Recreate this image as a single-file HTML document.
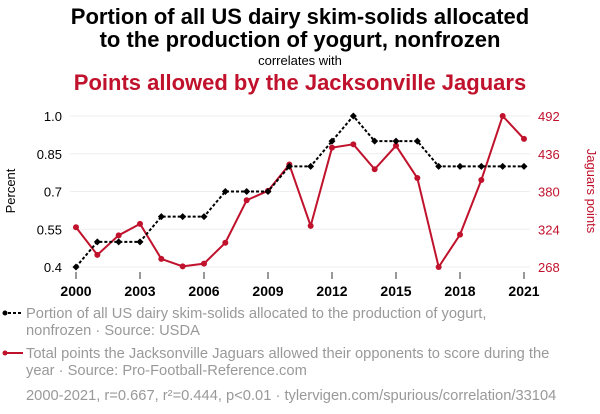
<!DOCTYPE html>
<html><head><meta charset="utf-8"><style>
body{margin:0;background:#fff;width:600px;height:414px;overflow:hidden;font-family:"Liberation Sans",sans-serif}
svg{display:block}
</style></head><body>
<svg id="chart" width="600" height="414">
<text x="300" y="24" text-anchor="middle" font-size="22" font-weight="bold" fill="#000">Portion of all US dairy skim-solids allocated</text>
<text x="300" y="47" text-anchor="middle" font-size="22" font-weight="bold" fill="#000">to the production of yogurt, nonfrozen</text>
<text x="300" y="65" text-anchor="middle" font-size="13" fill="#000">correlates with</text>
<text x="300" y="90" text-anchor="middle" font-size="22" font-weight="bold" fill="#c0122c">Points allowed by the Jacksonville Jaguars</text>
<text transform="translate(15,191) rotate(-90)" text-anchor="middle" font-size="13" fill="#000">Percent</text>
<text transform="translate(587,191) rotate(90)" text-anchor="middle" font-size="13" fill="#c0122c">Jaguars points</text>
<g id="grid"></g><g id="axes"></g><g id="series"></g>
<g>
<line x1="3" y1="313" x2="23" y2="313" stroke="#000" stroke-width="2" stroke-dasharray="3,2"/>
<circle cx="5" cy="313" r="2.5" fill="#000"/>
<text x="26" y="318" font-size="14.7" fill="#999">Portion of all US dairy skim-solids allocated to the production of yogurt,</text>
<text x="26" y="335" font-size="14.7" fill="#999">nonfrozen · Source: USDA</text>
<line x1="3" y1="353" x2="23" y2="353" stroke="#c0122c" stroke-width="2"/>
<circle cx="5" cy="353" r="2.5" fill="#c0122c"/>
<text x="26" y="358" font-size="14.7" fill="#999">Total points the Jacksonville Jaguars allowed their opponents to score during the</text>
<text x="26" y="375" font-size="14.7" fill="#999">year · Source: Pro-Football-Reference.com</text>
<text x="26" y="400" font-size="14.7" fill="#999">2000-2021, r=0.667, r²=0.444, p&lt;0.01 · tylervigen.com/spurious/correlation/33104</text>
</g>
</svg>
<script>
const years=[2000,2001,2002,2003,2004,2005,2006,2007,2008,2009,2010,2011,2012,2013,2014,2015,2016,2017,2018,2019,2020,2021];
const yogurt=[0.4,0.5,0.5,0.5,0.6,0.6,0.6,0.7,0.7,0.7,0.8,0.8,0.9,1.0,0.9,0.9,0.9,0.8,0.8,0.8,0.8,0.8];
const jaguars=[327,286,315,332,280,269,273,304,367,381,420,329,445,450,413,448,400,268,316,397,492,458];
const leftTicks=[0.4,0.55,0.7,0.85,1.0];
const leftTickLabels=["0.4","0.55","0.7","0.85","1.0"];
const rightTicks=[268,324,380,436,492];
const xTicks=[2000,2003,2006,2009,2012,2015,2018,2021];
const NS="http://www.w3.org/2000/svg";
const x=v=>76+(v-2000)*(524-76)/21;
const yl=v=>267-(v-0.4)*(267-116)/0.6;
const yr=v=>267-(v-268)*(267-116)/224;
function mk(tag,attrs,parent){const e=document.createElementNS(NS,tag);for(const k in attrs)e.setAttribute(k,attrs[k]);parent.appendChild(e);return e;}
const grid=document.getElementById('grid'),axes=document.getElementById('axes'),ser=document.getElementById('series');
leftTicks.forEach((t,i)=>{
 const g=mk('line',{x1:70,x2:530,y1:yl(t),y2:yl(t),stroke:'#eee','stroke-width':1},grid);
 
 
 const tx=mk('text',{x:62,y:yl(t)+5,'text-anchor':'end','font-size':13,fill:'#000'},axes);tx.textContent=leftTickLabels[i];
 
 
});
rightTicks.forEach(t=>{
 const tx=mk('text',{x:538,y:yr(t)+5,'font-size':13,fill:'#c0122c'},axes);tx.textContent=t;
 
 
});
xTicks.forEach(t=>{
 mk('line',{x1:x(t),x2:x(t),y1:272,y2:279,stroke:'#333','stroke-width':1},axes);
 const tx=mk('text',{x:x(t),y:296,'text-anchor':'middle','font-size':14,'font-weight':'bold',fill:'#000'},axes);tx.textContent=t;
 
 
});
const rp=mk('polyline',{points:years.map((y,i)=>x(y)+','+yr(jaguars[i])).join(' '),fill:'none',stroke:'#c0122c','stroke-width':2},ser);


years.forEach((y,i)=>{const c=mk('circle',{cx:x(y),cy:yr(jaguars[i]),r:3,fill:'#c0122c'},ser);
 
 });
const bp=mk('polyline',{points:years.map((y,i)=>x(y)+','+yl(yogurt[i])).join(' '),fill:'none',stroke:'#000','stroke-width':2,'stroke-dasharray':'3,2'},ser);


years.forEach((y,i)=>{const cx=x(y),cy=yl(yogurt[i]);const d=mk('polygon',{points:`${cx},${cy-3.5} ${cx+3.5},${cy} ${cx},${cy+3.5} ${cx-3.5},${cy}`,fill:'#000'},ser);
 
 });
</script>
</body></html>
